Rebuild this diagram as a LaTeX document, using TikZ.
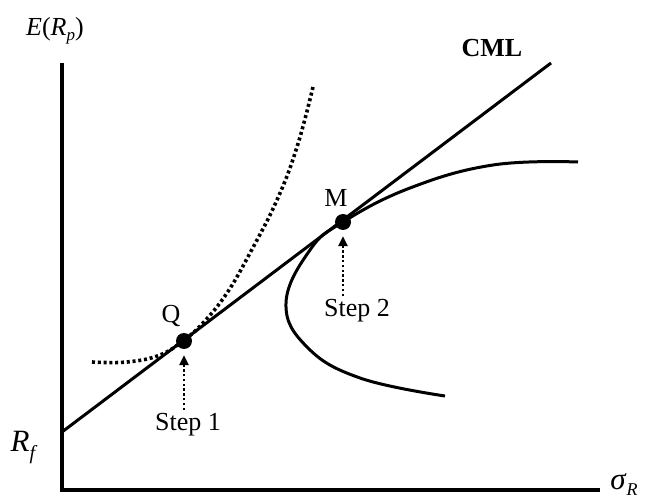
\documentclass[tikz,border=0pt]{standalone}
\usepackage{fontspec}
\setmainfont{Liberation Serif}
\usetikzlibrary{arrows.meta}

\begin{document}
\begin{tikzpicture}[x=1pt, y=-1pt, >={Triangle[width=9pt,length=10pt]},
    every node/.style={font=\fontsize{26}{30}\selectfont},
    dot/.style={circle, fill, inner sep=0pt, minimum size=16pt},
    steparrow/.style={->, line width=2.4pt, dash pattern=on 2.4pt off 2.4pt, shorten >=6pt}]
        \useasboundingbox (0,0) rectangle (648,502);

        % axes
        \coordinate (O) at (62,490);
        \coordinate (ytop) at (62,63);
        \coordinate (xend) at (600,490);
        \draw[line width=3.5pt] (ytop) -- (O) -- (xend);

        \node (ylab) at (55,31) {\fontsize{26}{30}\selectfont\textit{E}(\textit{R}\raisebox{-5pt}{\fontsize{17}{19}\selectfont\textit{p}})};
        \node (rflab) at (24,447) {\fontsize{31}{35}\selectfont\textit{R}\raisebox{-8pt}{\fontsize{20}{22}\selectfont\textit{f}}};
        \node (xlab) at (624,485) {\fontsize{31}{35}\selectfont\textit{σ}\raisebox{-6pt}{\fontsize{18}{20}\selectfont\textit{R}}};

        % capital market line
        \coordinate (rf) at (62,432);
        \coordinate (cmlend) at (551,63);
        \draw[line width=3pt] (rf) -- (cmlend);
        \node (cml) at (492,48) {\textbf{CML}};

        % efficient frontier
        \draw[line width=3pt] plot[smooth, tension=0.7] coordinates {(445,396) (360,378) (307,347) (286,303) (310,250) (343,222) (410,188) (493,165) (578,162)};

        % indifference curve
        \draw[line width=3.6pt, dash pattern=on 3pt off 2.8pt] plot[smooth, tension=0.7] coordinates {(92,362) (127,362) (160,355) (184,340) (203,323) (227,293) (250,253) (277,200) (297,147) (313,87)};

        \node[dot] (Q) at (184,341) {};
        \node[dot] (M) at (343,222) {};
        \node (Qlab) at (171,316) {Q};
        \node (Mlab) at (336,198) {M};

        \node (s1) at (188,425) {Step 1};
        \node (s2) at (357,311) {Step 2};
        \draw[steparrow] (s1.north -| Q) -- (Q.south);
        \draw[steparrow] (s2.north -| M) -- (M.south);
    \end{tikzpicture}
\end{document}
